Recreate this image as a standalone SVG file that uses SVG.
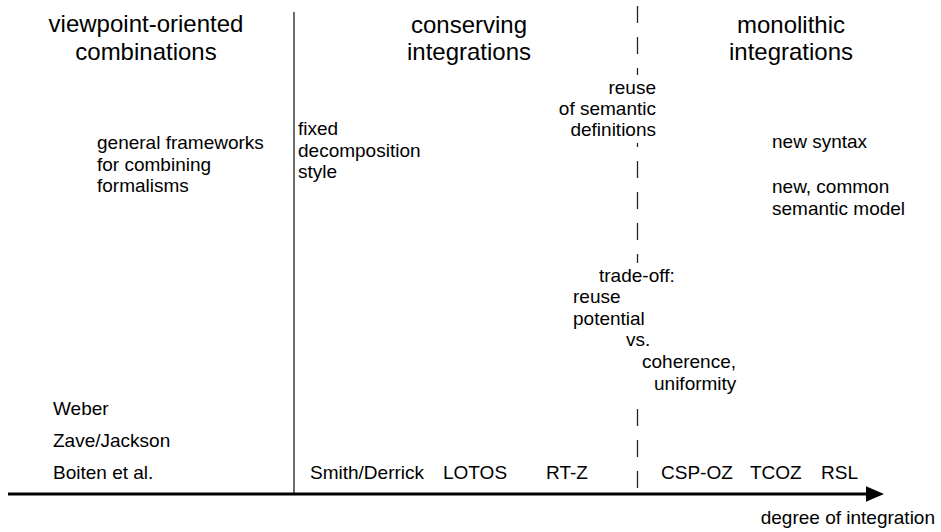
<svg xmlns="http://www.w3.org/2000/svg" width="941" height="532" viewBox="0 0 941 532">
  <style>
    text { font-family: "Liberation Sans", Arial, sans-serif; fill: #000; }
    .title { font-size: 24px; text-anchor: middle; }
    .lbl { font-size: 19px; }
    .end { text-anchor: end; }
    .divider { stroke: #6e6e6e; stroke-width: 2; fill: none; }
    .dashed { stroke: #222; stroke-width: 1.3; stroke-dasharray: 17 14; fill: none; }
    .axis { stroke: #000; stroke-width: 3; fill: none; }
  </style>
  <defs>
    <marker id="arrowhead" markerWidth="6" markerHeight="6" refX="1" refY="3" orient="auto" markerUnits="strokeWidth">
      <path d="M0,0.4 L6,3 L0,5.6 z" fill="#000"/>
    </marker>
  </defs>
  <rect width="941" height="532" fill="#fff"/>

  <g id="connectors">
    <line class="divider" x1="294" y1="12" x2="294" y2="494"/>
    <line class="dashed" x1="637.5" y1="6" x2="637.5" y2="494"/>
    <line class="axis" x1="8" y1="494" x2="869" y2="494" marker-end="url(#arrowhead)"/>
  </g>

  <g id="viewpoint-oriented">
    <text class="title" x="146" y="32">viewpoint-oriented</text>
    <text class="title" x="146" y="60">combinations</text>
  </g>
  <g id="conserving">
    <text class="title" x="469" y="33">conserving</text>
    <text class="title" x="469" y="60">integrations</text>
  </g>
  <g id="monolithic">
    <text class="title" x="791" y="33">monolithic</text>
    <text class="title" x="791" y="60">integrations</text>
  </g>

  <g id="general-frameworks">
    <text class="lbl" x="97" y="149">general frameworks</text>
    <text class="lbl" x="97" y="171">for combining</text>
    <text class="lbl" x="97" y="192">formalisms</text>
  </g>
  <g id="fixed-decomposition">
    <text class="lbl" x="298" y="135">fixed</text>
    <text class="lbl" x="298" y="157">decomposition</text>
    <text class="lbl" x="298" y="178">style</text>
  </g>
  <g id="reuse-semantics">
    <rect x="600" y="75" width="58" height="68" fill="#fff"/>
    <text class="lbl end" x="656" y="94">reuse</text>
    <text class="lbl end" x="656" y="115">of semantic</text>
    <text class="lbl end" x="656" y="136">definitions</text>
  </g>
  <g id="new-syntax">
    <text class="lbl" x="772" y="148">new syntax</text>
    <text class="lbl" x="772" y="193">new, common</text>
    <text class="lbl" x="772" y="215">semantic model</text>
  </g>
  <g id="trade-off">
    <rect x="610" y="263" width="50" height="132" fill="#fff"/>
    <text class="lbl" x="599" y="282">trade-off:</text>
    <text class="lbl" x="573" y="303">reuse</text>
    <text class="lbl" x="573" y="325">potential</text>
    <text class="lbl" x="626" y="346">vs.</text>
    <text class="lbl" x="642" y="368">coherence,</text>
    <text class="lbl" x="654" y="390">uniformity</text>
  </g>

  <g id="viewpoint-examples">
    <text class="lbl" x="53" y="415">Weber</text>
    <text class="lbl" x="53" y="447">Zave/Jackson</text>
    <text class="lbl" x="53" y="479">Boiten et al.</text>
  </g>
  <g id="conserving-examples">
    <text class="lbl" x="310" y="479">Smith/Derrick</text>
    <text class="lbl" x="443" y="479">LOTOS</text>
    <text class="lbl" x="546" y="479">RT-Z</text>
  </g>
  <g id="monolithic-examples">
    <text class="lbl" x="661" y="479">CSP-OZ</text>
    <text class="lbl" x="750" y="479">TCOZ</text>
    <text class="lbl" x="821" y="479">RSL</text>
  </g>

  <g id="axis-label">
    <text class="lbl end" x="935" y="524">degree of integration</text>
  </g>
</svg>
